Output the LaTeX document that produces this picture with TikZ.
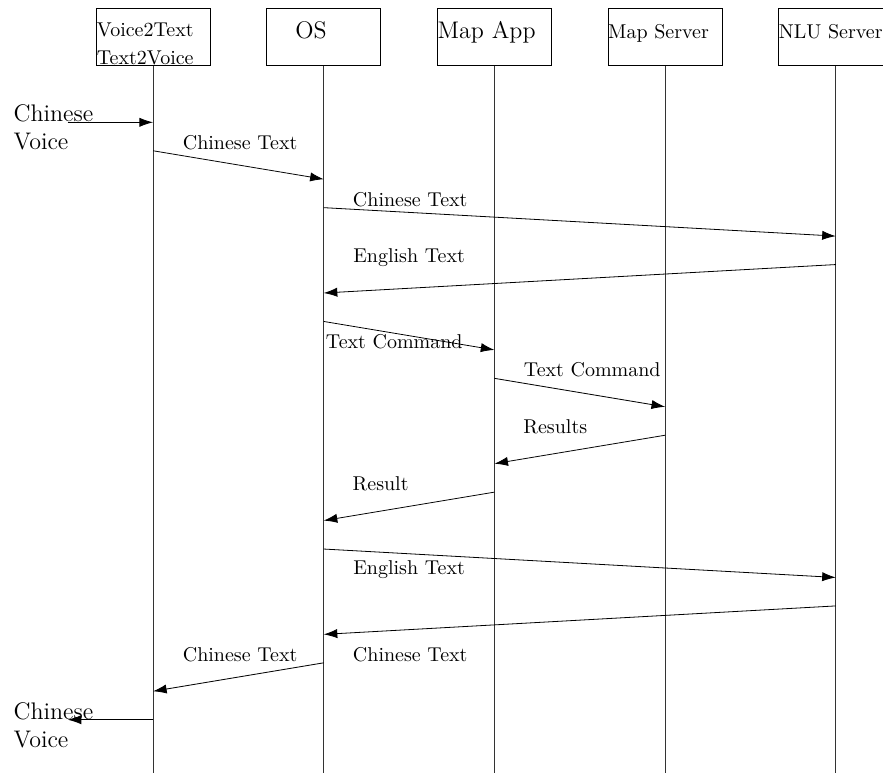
\documentclass[tikz,border=0pt]{standalone}
\usepackage{tikz}
\usetikzlibrary{arrows.meta, positioning, calc}

\begin{document}
\begin{tikzpicture}[
    actor/.style={draw, minimum width=2cm, minimum height=1cm, inner sep=0pt, text width=2cm, align=left, text height=7pt, text depth=5.5pt},
    life/.style={draw=black!80},
    msg/.style={-{Latex[length=6.8pt, width=4.6pt]}},
    lbl/.style={inner sep=0pt}
]
    \useasboundingbox (-2.69,0.65) rectangle (12.83,-12.92);

    % the five participants
    \node[actor] (v2t) at (0,0) {};
    \node[lbl, anchor=south west, align=left] (v2ttext) at ([xshift=0.4pt]v2t.south west) {Voice2Text\\[2.2pt]Text2Voice};
    \node[actor, font=\large] (os) at (3,0) {\hspace*{0.5cm}OS};
    \node[actor, font=\large] (app) at (6,0) {Map App};
    \node[actor] (srv) at (9,0) {Map Server};
    \node[actor] (nlu) at (12,0) {NLU Server};

    % lifelines
    \foreach \p in {v2t, os, app, srv, nlu}
        \draw[life] (\p.south) -- ($(\p.south)+(0,-14)$);

    % one point per row on every lifeline
    \foreach \k in {0,...,21} {
        \coordinate (v\k) at (0,-1.5-0.5*\k);
        \coordinate (o\k) at (3,-1.5-0.5*\k);
        \coordinate (m\k) at (6,-1.5-0.5*\k);
        \coordinate (s\k) at (9,-1.5-0.5*\k);
        \coordinate (n\k) at (12,-1.5-0.5*\k);
    }

    % voice in
    \node[font=\large, align=left] (vin) at (-1.75,-1.58) {Chinese\\Voice};
    \coordinate (vinstart) at (-1.5,-1.5);
    \draw[msg] (vinstart) -- (v0);

    \draw[msg] (v1) -- (o2);
    \node[lbl] (l1) at (1.53,-1.86) {Chinese Text};
    \draw[msg] (o3) -- (n4);
    \node[lbl] (l2) at (4.52,-2.86) {Chinese Text};
    \draw[msg] (n5) -- (o6);
    \node[lbl] (l3) at (4.5,-3.87) {English Text};
    \draw[msg] (o7) -- (m8);
    \node[lbl] (l4) at (4.24,-5.35) {Text Command};
    \draw[msg] (m9) -- (s10);
    \node[lbl] (l5) at (7.72,-5.85) {Text Command};
    \draw[msg] (s11) -- (m12);
    \node[lbl] (l6) at (7.07,-6.85) {Results};
    \draw[msg] (m13) -- (o14);
    \node[lbl] (l7) at (4.0,-7.86) {Result};
    \draw[msg] (o15) -- (n16);
    \node[lbl] (l8) at (4.5,-9.37) {English Text};
    \draw[msg] (n17) -- (o18);
    \node[lbl] (l9) at (4.52,-10.86) {Chinese Text};
    \draw[msg] (o19) -- (v20);
    \node[lbl] (l10) at (1.53,-10.86) {Chinese Text};

    % voice out
    \node[font=\large, align=left] (vout) at (-1.75,-12.09) {Chinese\\Voice};
    \coordinate (voutend) at (-1.5,-12);
    \draw[msg] (v21) -- (voutend);
\end{tikzpicture}
\end{document}
